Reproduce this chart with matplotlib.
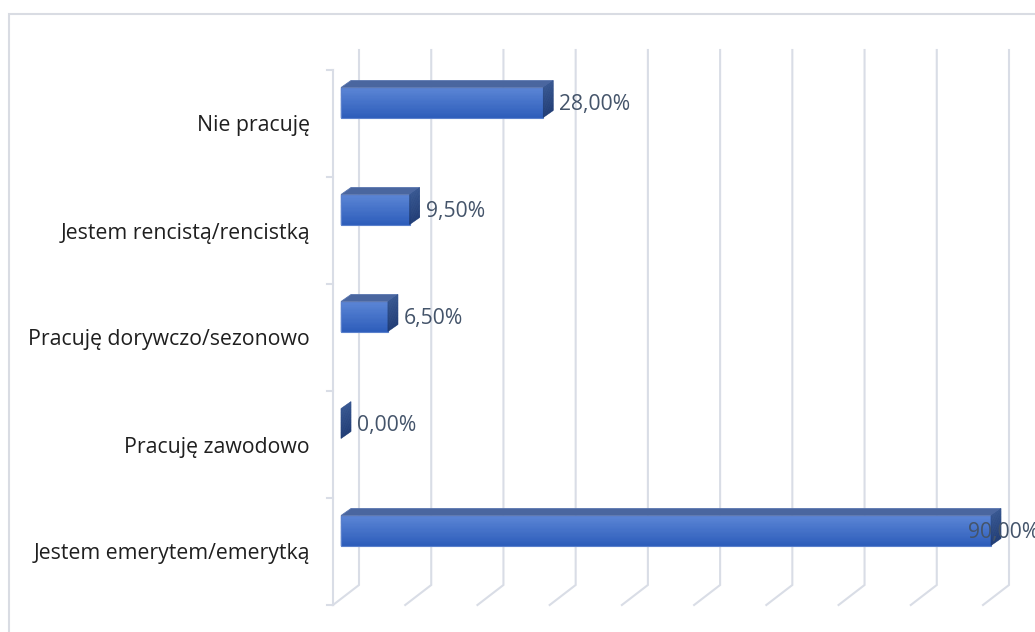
import numpy as np
import matplotlib
matplotlib.use('Agg')
import matplotlib.pyplot as plt
from matplotlib.patches import Polygon, Rectangle
from matplotlib.colors import to_rgb

# categories listed bottom -> top, as the axis stacks them
categories = ['Jestem emerytem/emerytką', 'Pracuję zawodowo', 'Pracuję dorywczo/sezonowo',
              'Jestem rencistą/rencistką', 'Nie pracuję']
values = [90.0, 0.0, 6.5, 9.5, 28.0]
value_labels = ['90,00%', '0,00%', '6,50%', '9,50%', '28,00%']
grid_ticks = np.arange(0, 91, 10)

W, H = 1035, 632
fig = plt.figure(figsize=(W / 100, H / 100), dpi=100)
fig.patch.set_facecolor('white')

# front plane of the 3d box, in pixels
x0_px, x1_px = 333, 983
ytop_px, ybot_px = 70, 605
ax = fig.add_axes([x0_px / W, (H - ybot_px) / H, (x1_px - x0_px) / W, (ybot_px - ytop_px) / H])
ax.set_xlim(0, 90)
ax.set_ylim(-0.5, 4.5)
ax.patch.set_alpha(0)
for s in ax.spines.values():
    s.set_visible(False)
ax.set_xticks([])

ppx = (x1_px - x0_px) / 90.0
ppy = (ybot_px - ytop_px) / 5.0


def proj(x, y, off):
    # shift a point back into depth by a pixel offset (dx right, dy up)
    return (x + off[0] / ppx, y + off[1] / ppy)


wall = (26, 20)
bar_front = (8, 6)
bar_back = (18, 13)
grid_col = '#D9DDE6'

# back wall gridlines and floor lines
for g in grid_ticks:
    p0 = proj(g, -0.5, (0, 0))
    p1 = proj(g, -0.5, wall)
    p2 = proj(g, 4.5, wall)
    ax.plot([p0[0], p1[0], p2[0]], [p0[1], p1[1], p2[1]], color=grid_col, lw=1.5,
            clip_on=False, solid_joinstyle='miter', zorder=1)

# vertical axis with ticks between categories
ax.plot([0, 0], [-0.5, 4.5], color=grid_col, lw=1.5, clip_on=False, zorder=1)
for e in np.arange(-0.5, 4.6, 1.0):
    ax.plot([-6 / ppx, 0], [e, e], color=grid_col, lw=1.5, clip_on=False, zorder=1)


def blend(c1, c2, t):
    a, b = np.array(to_rgb(c1)), np.array(to_rgb(c2))
    return tuple(a + (b - a) * t)


bar_h = 0.28
n_strips = 24
for i, v in enumerate(values):
    yb, yt = i, i + bar_h
    # front face, vertical gradient
    if v > 0:
        for k in range(n_strips):
            t = k / (n_strips - 1)
            y_lo = yb + (yt - yb) * k / n_strips
            fx, fy = proj(0, y_lo, bar_front)
            c = blend('#2E5EBB', '#5B85D5', t)
            ax.barh(fy, v, height=(yt - yb) / n_strips, left=fx, align='edge',
                    color=c, ec=c, lw=0.3, clip_on=False, zorder=3)
        ax.add_patch(Polygon([proj(0, yb, bar_front), proj(v, yb, bar_front),
                              proj(v, yt, bar_front), proj(0, yt, bar_front)],
                             closed=True, fill=False, ec='#5A80CC', lw=0.8, clip_on=False, zorder=4))
        # top face
        ax.add_patch(Polygon([proj(0, yt, bar_front), proj(v, yt, bar_front),
                              proj(v, yt, bar_back), proj(0, yt, bar_back)],
                             closed=True, fc='#4A669F', ec='#5874AE', lw=0.6, clip_on=False, zorder=4))
    # right side face
    for k in range(n_strips):
        t0, t1 = k / n_strips, (k + 1) / n_strips
        ya, yc = yb + (yt - yb) * t0, yb + (yt - yb) * t1
        c = blend('#1D3A74', '#34548F', t0)
        ax.add_patch(Polygon([proj(v, ya, bar_front), proj(v, ya, bar_back),
                              proj(v, yc, bar_back), proj(v, yc, bar_front)],
                             closed=True, fc=c, ec=c, lw=0.4, clip_on=False, zorder=4))

    # value label (the widest bar gets its label pulled back over the bar end)
    dx = 24 if v < 80 else -15
    ax.annotate(value_labels[i], xy=(v, i + bar_h / 2), xytext=(dx, 4), textcoords='offset pixels',
                ha='left', va='center', fontsize=15.2, color='#44546A', family='Open Sans',
                annotation_clip=False, zorder=6)

ax.set_yticks(range(len(categories)))
ax.set_yticklabels(categories, family='Open Sans', fontsize=15.3, color='#1F1F1F')
ax.tick_params(axis='y', length=0, pad=16.5)

# outer chart frame
fig.add_artist(Rectangle((9 / W, -0.1), 1.2, (H - 14) / H + 0.1, transform=fig.transFigure,
                         fill=False, ec='#D9DCE3', lw=1.5))

fig.savefig('out.png', dpi=100)
